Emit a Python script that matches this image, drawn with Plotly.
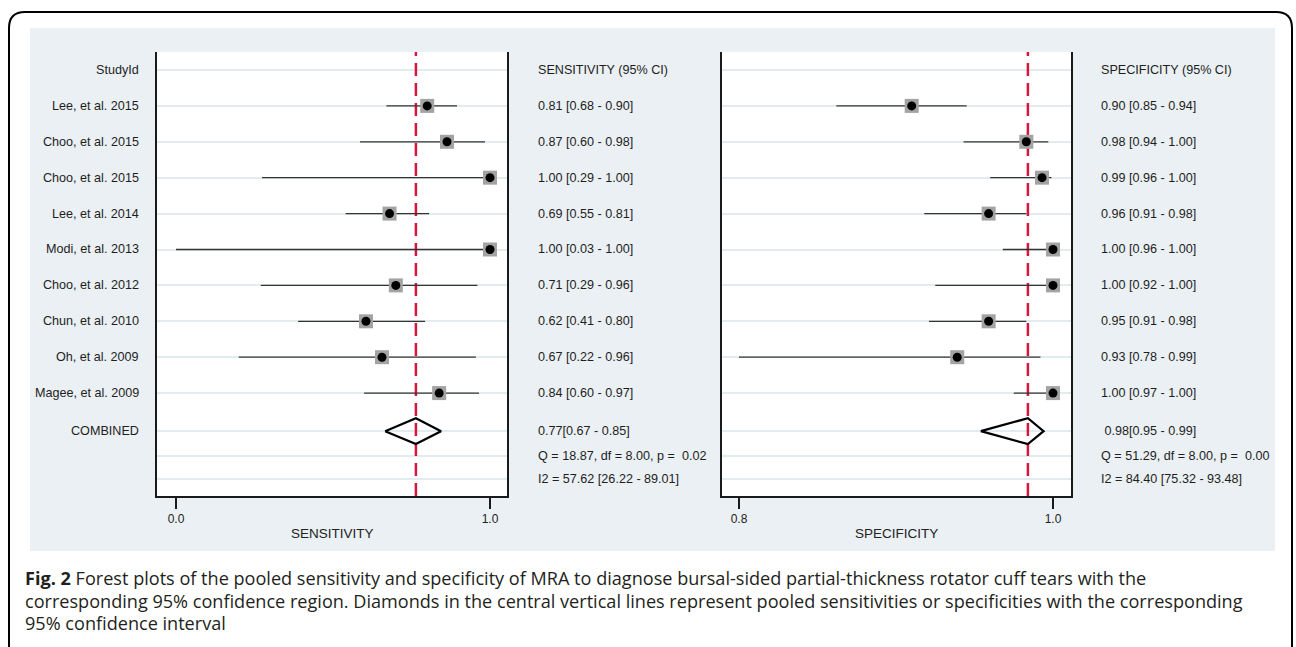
import plotly.graph_objects as go

# ---------------- data ----------------
STUDIES = ["Lee, et al. 2015", "Choo, et al. 2015", "Choo, et al. 2015", "Lee, et al. 2014",
           "Modi, et al. 2013", "Choo, et al. 2012", "Chun, et al. 2010", "Oh, et al. 2009",
           "Magee, et al. 2009"]

SENS = [0.80, 0.863, 1.00, 0.68, 1.00, 0.70, 0.605, 0.656, 0.838]
SENS_LO = [0.67, 0.586, 0.274, 0.54, 0.00, 0.27, 0.389, 0.20, 0.599]
SENS_HI = [0.895, 0.984, 1.00, 0.806, 1.00, 0.96, 0.793, 0.955, 0.965]
SENS_POOLED = [0.666, 0.764, 0.844]   # lo, estimate, hi

SPEC = [0.910, 0.983, 0.993, 0.959, 1.00, 1.00, 0.959, 0.939, 1.00]
SPEC_LO = [0.862, 0.943, 0.960, 0.918, 0.968, 0.925, 0.921, 0.80, 0.975]
SPEC_HI = [0.945, 0.997, 0.999, 0.983, 1.00, 1.00, 0.983, 0.992, 1.00]
SPEC_POOLED = [0.954, 0.984, 0.994]

SENS_TEXT = ["SENSITIVITY (95% CI)", "0.81 [0.68 - 0.90]", "0.87 [0.60 - 0.98]", "1.00 [0.29 - 1.00]",
             "0.69 [0.55 - 0.81]", "1.00 [0.03 - 1.00]", "0.71 [0.29 - 0.96]", "0.62 [0.41 - 0.80]",
             "0.67 [0.22 - 0.96]", "0.84 [0.60 - 0.97]", "0.77[0.67 - 0.85]",
             "Q = 18.87, df = 8.00, p =\u00a0\u00a00.02", "I2 = 57.62 [26.22 - 89.01]"]
SPEC_TEXT = ["SPECIFICITY (95% CI)", "0.90 [0.85 - 0.94]", "0.98 [0.94 - 1.00]", "0.99 [0.96 - 1.00]",
             "0.96 [0.91 - 0.98]", "1.00 [0.96 - 1.00]", "1.00 [0.92 - 1.00]", "0.95 [0.91 - 0.98]",
             "0.93 [0.78 - 0.99]", "1.00 [0.97 - 1.00]", "\u00a00.98[0.95 - 0.99]",
             "Q = 51.29, df = 8.00, p =\u00a0\u00a00.00", "I2 = 84.40 [75.32 - 93.48]"]

ROW_LABELS = ["StudyId"] + STUDIES + ["COMBINED", "", ""]
SENS_TICKS = [0.0, 1.0]
SENS_TICKTEXT = ["0.0", "1.0"]
SPEC_TICKS = [0.8, 1.0]
SPEC_TICKTEXT = ["0.8", "1.0"]

CAPTION = [
    "<b>Fig. 2</b> Forest plots of the pooled sensitivity and specificity of MRA to diagnose bursal-sided partial-thickness rotator cuff tears with the",
    "corresponding 95% confidence region. Diamonds in the central vertical lines represent pooled sensitivities or specificities with the corresponding",
    "95% confidence interval",
]

# ---------------- layout helpers ----------------
W, H = 1296, 647
ROWS = [0, 1, 2, 3, 4, 5, 6, 7, 8, 9, 10.06, 10.75, 11.39]
Y_RANGE = [11.866, -0.501]
DIAMOND_HALF = 0.36


def px(x):
    return x / W


def py(y):
    return 1 - y / H


LEFT_DOM = [px(157), px(507)]
RIGHT_DOM = [px(722), px(1071)]
Y_DOM = [py(496), py(52)]

TXT_FONT = dict(family="Liberation Sans, Arial, sans-serif", size=12.6, color="#1e1e1e")
GRID = "#e2ecef"
RED = "#d5173e"

fig = go.Figure()


def add_panel(xa, ya, est, lo, hi, pooled):
    xs, ys = [], []
    for i in range(len(est)):
        xs += [lo[i], hi[i], None]
        ys += [ROWS[i + 1], ROWS[i + 1], None]
    study_y = ROWS[1:1 + len(est)]
    # reference line at pooled estimate
    fig.add_trace(go.Scatter(x=[pooled[1], pooled[1]], y=Y_RANGE, mode="lines",
                             line=dict(color=RED, width=2.5, dash="13px,7px"),
                             xaxis=xa, yaxis=ya, hoverinfo="skip", showlegend=False))
    fig.add_trace(go.Scatter(x=xs, y=ys, mode="lines", line=dict(color="#333333", width=1.3),
                             xaxis=xa, yaxis=ya, hoverinfo="skip", showlegend=False))
    fig.add_trace(go.Scatter(x=est, y=study_y, mode="markers",
                             marker=dict(symbol="square", size=14, color="#a3a3a3", line=dict(width=0)),
                             xaxis=xa, yaxis=ya, hoverinfo="skip", showlegend=False, cliponaxis=False))
    fig.add_trace(go.Scatter(x=est, y=study_y, mode="markers",
                             marker=dict(symbol="circle", size=9, color="black", line=dict(width=0)),
                             xaxis=xa, yaxis=ya, hoverinfo="skip", showlegend=False, cliponaxis=False))
    yc = ROWS[10]
    fig.add_trace(go.Scatter(x=[pooled[0], pooled[1], pooled[2], pooled[1], pooled[0]],
                             y=[yc, yc - DIAMOND_HALF, yc, yc + DIAMOND_HALF, yc],
                             mode="lines", line=dict(color="black", width=2.2),
                             xaxis=xa, yaxis=ya, hoverinfo="skip", showlegend=False))


add_panel("x", "y", SENS, SENS_LO, SENS_HI, SENS_POOLED)
add_panel("x2", "y2", SPEC, SPEC_LO, SPEC_HI, SPEC_POOLED)

axis_common = dict(showline=True, linecolor="#1a1a1a", linewidth=2, zeroline=False)
xcommon = dict(axis_common, showgrid=False, ticks="outside", ticklen=11, tickwidth=2,
               tickcolor="#1a1a1a", tickfont=dict(family="Liberation Sans, Arial, sans-serif",
                                                   size=12, color="#222222"))
ycommon = dict(axis_common, mirror=True, showgrid=True, gridcolor=GRID, gridwidth=2,
               tickvals=ROWS, showticklabels=False, ticks="", range=Y_RANGE, domain=Y_DOM)

fig.update_layout(
    width=W, height=H, margin=dict(l=0, r=0, t=0, b=0),
    paper_bgcolor="white", plot_bgcolor="rgba(0,0,0,0)",
    xaxis=dict(xcommon, domain=LEFT_DOM, range=[-0.0605, 1.0541], tickvals=SENS_TICKS,
               ticktext=SENS_TICKTEXT, anchor="y"),
    yaxis=dict(ycommon, anchor="x"),
    xaxis2=dict(xcommon, domain=RIGHT_DOM, range=[0.78917, 1.01146], tickvals=SPEC_TICKS,
                ticktext=SPEC_TICKTEXT, anchor="y2"),
    yaxis2=dict(ycommon, anchor="x2"),
    showlegend=False,
)

# background panel and white plot areas
shapes = [
    dict(type="rect", xref="paper", yref="paper", x0=px(30), x1=px(1275), y0=py(551), y1=py(28),
         fillcolor="#eaf0f3", line=dict(width=0), layer="below"),
    dict(type="rect", xref="paper", yref="paper", x0=LEFT_DOM[0], x1=LEFT_DOM[1], y0=Y_DOM[0], y1=Y_DOM[1],
         fillcolor="white", line=dict(width=0), layer="below"),
    dict(type="rect", xref="paper", yref="paper", x0=RIGHT_DOM[0], x1=RIGHT_DOM[1], y0=Y_DOM[0], y1=Y_DOM[1],
         fillcolor="white", line=dict(width=0), layer="below"),
]

# rounded outer frame
L, T, R, B, r = 9, 12, 1292, 680, 16
path = (f"M {px(L)},{py(T + r)} Q {px(L)},{py(T)} {px(L + r)},{py(T)} "
        f"L {px(R - r)},{py(T)} Q {px(R)},{py(T)} {px(R)},{py(T + r)} "
        f"L {px(R)},{py(B)} L {px(L)},{py(B)} Z")
shapes.append(dict(type="path", xref="paper", yref="paper", path=path,
                   line=dict(color="black", width=2), fillcolor="rgba(0,0,0,0)", layer="above"))
fig.update_layout(shapes=shapes)

ann = []
for lab, yv in zip(ROW_LABELS, ROWS):
    if lab:
        ann.append(dict(text=lab, xref="paper", yref="y", x=px(141), y=yv, xanchor="right",
                        yanchor="middle", showarrow=False, font=TXT_FONT))
for t, yv in zip(SENS_TEXT, ROWS):
    ann.append(dict(text=t, xref="paper", yref="y", x=px(536), y=yv, xanchor="left",
                    yanchor="middle", showarrow=False, font=TXT_FONT))
for t, yv in zip(SPEC_TEXT, ROWS):
    ann.append(dict(text=t, xref="paper", yref="y2", x=px(1099), y=yv, xanchor="left",
                    yanchor="middle", showarrow=False, font=TXT_FONT))

ann.append(dict(text="SENSITIVITY", xref="paper", yref="paper", x=(LEFT_DOM[0] + LEFT_DOM[1]) / 2,
                y=py(533), xanchor="center", yanchor="middle", showarrow=False,
                font=dict(family="Liberation Sans, Arial, sans-serif", size=13.5, color="#222222")))
ann.append(dict(text="SPECIFICITY", xref="paper", yref="paper", x=(RIGHT_DOM[0] + RIGHT_DOM[1]) / 2,
                y=py(533), xanchor="center", yanchor="middle", showarrow=False,
                font=dict(family="Liberation Sans, Arial, sans-serif", size=13.5, color="#222222")))

for line, yy in zip(CAPTION, [578, 601, 623]):
    ann.append(dict(text=line, xref="paper", yref="paper", x=px(23), y=py(yy), xanchor="left",
                    yanchor="middle", showarrow=False,
                    font=dict(family="Open Sans, sans-serif", size=18.1, color="#231f20")))

fig.update_layout(annotations=ann)

fig.write_html("out.html", config={"displayModeBar": False},
               post_script="document.body.style.margin='0';document.body.style.padding='0';")
